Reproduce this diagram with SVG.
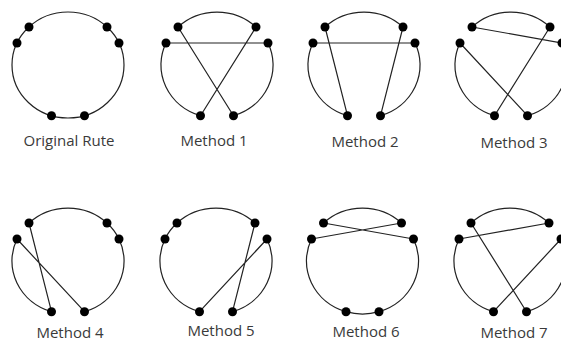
<svg xmlns="http://www.w3.org/2000/svg" width="561" height="343" viewBox="0 0 561 343">
<style>
.c{fill:none;stroke:#222;stroke-width:1.2}
.d{fill:#000}
.t{font-family:"Open Sans","Liberation Sans",sans-serif;font-size:15px;fill:#3a3a3a;text-anchor:middle}
</style>
<rect width="561" height="343" fill="#fff"/>
<g id="original">
<g class="connectors"><ellipse class="c" cx="68" cy="65" rx="56" ry="53"/></g>
<g id="o-A"><circle class="d" cx="29" cy="27" r="4.5"/></g>
<g id="o-B"><circle class="d" cx="17" cy="43" r="4.5"/></g>
<g id="o-C"><circle class="d" cx="107" cy="27" r="4.5"/></g>
<g id="o-D"><circle class="d" cx="119" cy="43" r="4.5"/></g>
<g id="o-E"><circle class="d" cx="51.5" cy="115.7" r="4.5"/></g>
<g id="o-F"><circle class="d" cx="84.5" cy="115.7" r="4.5"/></g>
<text class="t" x="69" y="146">Original Rute</text>
</g>
<g id="method1">
<g class="connectors">
<path class="c" d="M178 27A56 53 0 0 1 256 27"/>
<path class="c" d="M200.5 115.7A56 53 0 0 1 166 43"/>
<path class="c" d="M268 43A56 53 0 0 1 233.5 115.7"/>
<path class="c" d="M166 43L268 43M178 27L233.5 115.7M256 27L200.5 115.7"/>
</g>
<g id="m1-A"><circle class="d" cx="178" cy="27" r="4.5"/></g>
<g id="m1-B"><circle class="d" cx="166" cy="43" r="4.5"/></g>
<g id="m1-C"><circle class="d" cx="256" cy="27" r="4.5"/></g>
<g id="m1-D"><circle class="d" cx="268" cy="43" r="4.5"/></g>
<g id="m1-E"><circle class="d" cx="200.5" cy="115.7" r="4.5"/></g>
<g id="m1-F"><circle class="d" cx="233.5" cy="115.7" r="4.5"/></g>
<text class="t" x="214" y="146">Method 1</text>
</g>
<g id="method2">
<g class="connectors">
<path class="c" d="M325 27A56 53 0 0 1 403 27"/>
<path class="c" d="M347.5 115.7A56 53 0 0 1 313 43"/>
<path class="c" d="M415 43A56 53 0 0 1 380.5 115.7"/>
<path class="c" d="M313 43L415 43M325 27L347.5 115.7M403 27L380.5 115.7"/>
</g>
<g id="m2-A"><circle class="d" cx="325" cy="27" r="4.5"/></g>
<g id="m2-B"><circle class="d" cx="313" cy="43" r="4.5"/></g>
<g id="m2-C"><circle class="d" cx="403" cy="27" r="4.5"/></g>
<g id="m2-D"><circle class="d" cx="415" cy="43" r="4.5"/></g>
<g id="m2-E"><circle class="d" cx="347.5" cy="115.7" r="4.5"/></g>
<g id="m2-F"><circle class="d" cx="380.5" cy="115.7" r="4.5"/></g>
<text class="t" x="365" y="147">Method 2</text>
</g>
<g id="method3">
<g class="connectors">
<path class="c" d="M472 27A56 53 0 0 1 550 27"/>
<path class="c" d="M494.5 115.7A56 53 0 0 1 460 43"/>
<path class="c" d="M562 43A56 53 0 0 1 527.5 115.7"/>
<path class="c" d="M472 27L562 43M550 27L494.5 115.7M460 43L527.5 115.7"/>
</g>
<g id="m3-A"><circle class="d" cx="472" cy="27" r="4.5"/></g>
<g id="m3-B"><circle class="d" cx="460" cy="43" r="4.5"/></g>
<g id="m3-C"><circle class="d" cx="550" cy="27" r="4.5"/></g>
<g id="m3-D"><circle class="d" cx="562" cy="43" r="4.5"/></g>
<g id="m3-E"><circle class="d" cx="494.5" cy="115.7" r="4.5"/></g>
<g id="m3-F"><circle class="d" cx="527.5" cy="115.7" r="4.5"/></g>
<text class="t" x="514" y="148">Method 3</text>
</g>
<g id="method4">
<g class="connectors">
<path class="c" d="M29 223A56 53 0 0 1 107 223A56 53 0 0 1 119 239A56 53 0 0 1 84.5 311.7"/>
<path class="c" d="M51.5 311.7A56 53 0 0 1 17 239"/>
<path class="c" d="M84.5 311.7L17 239M29 223L51.5 311.7"/>
</g>
<g id="m4-A"><circle class="d" cx="29" cy="223" r="4.5"/></g>
<g id="m4-B"><circle class="d" cx="17" cy="239" r="4.5"/></g>
<g id="m4-C"><circle class="d" cx="107" cy="223" r="4.5"/></g>
<g id="m4-D"><circle class="d" cx="119" cy="239" r="4.5"/></g>
<g id="m4-E"><circle class="d" cx="51.5" cy="311.7" r="4.5"/></g>
<g id="m4-F"><circle class="d" cx="84.5" cy="311.7" r="4.5"/></g>
<text class="t" x="70" y="338">Method 4</text>
</g>
<g id="method5">
<g class="connectors">
<path class="c" d="M165 239A56 53 0 0 1 177 223A56 53 0 0 1 255 223"/>
<path class="c" d="M199.5 311.7A56 53 0 0 1 165 239"/>
<path class="c" d="M267 239A56 53 0 0 1 232.5 311.7"/>
<path class="c" d="M255 223L232.5 311.7M267 239L199.5 311.7"/>
</g>
<g id="m5-A"><circle class="d" cx="177" cy="223" r="4.5"/></g>
<g id="m5-B"><circle class="d" cx="165" cy="239" r="4.5"/></g>
<g id="m5-C"><circle class="d" cx="255" cy="223" r="4.5"/></g>
<g id="m5-D"><circle class="d" cx="267" cy="239" r="4.5"/></g>
<g id="m5-E"><circle class="d" cx="199.5" cy="311.7" r="4.5"/></g>
<g id="m5-F"><circle class="d" cx="232.5" cy="311.7" r="4.5"/></g>
<text class="t" x="221" y="336">Method 5</text>
</g>
<g id="method6">
<g class="connectors">
<path class="c" d="M323.5 223A56 53 0 0 1 401.5 223"/>
<path class="c" d="M413.5 239A56 53 0 0 1 379 311.7A56 53 0 0 1 346 311.7A56 53 0 0 1 311.5 239"/>
<path class="c" d="M323.5 223L413.5 239M311.5 239L401.5 223"/>
</g>
<g id="m6-A"><circle class="d" cx="323.5" cy="223" r="4.5"/></g>
<g id="m6-B"><circle class="d" cx="311.5" cy="239" r="4.5"/></g>
<g id="m6-C"><circle class="d" cx="401.5" cy="223" r="4.5"/></g>
<g id="m6-D"><circle class="d" cx="413.5" cy="239" r="4.5"/></g>
<g id="m6-E"><circle class="d" cx="346" cy="311.7" r="4.5"/></g>
<g id="m6-F"><circle class="d" cx="379" cy="311.7" r="4.5"/></g>
<text class="t" x="366" y="337">Method 6</text>
</g>
<g id="method7">
<g class="connectors">
<path class="c" d="M471 223A56 53 0 0 1 549 223"/>
<path class="c" d="M493.5 311.7A56 53 0 0 1 459 239"/>
<path class="c" d="M561 239A56 53 0 0 1 526.5 311.7"/>
<path class="c" d="M459 239L549 223M471 223L526.5 311.7M561 239L493.5 311.7"/>
</g>
<g id="m7-A"><circle class="d" cx="471" cy="223" r="4.5"/></g>
<g id="m7-B"><circle class="d" cx="459" cy="239" r="4.5"/></g>
<g id="m7-C"><circle class="d" cx="549" cy="223" r="4.5"/></g>
<g id="m7-D"><circle class="d" cx="561" cy="239" r="4.5"/></g>
<g id="m7-E"><circle class="d" cx="493.5" cy="311.7" r="4.5"/></g>
<g id="m7-F"><circle class="d" cx="526.5" cy="311.7" r="4.5"/></g>
<text class="t" x="514" y="338">Method 7</text>
</g>
</svg>
